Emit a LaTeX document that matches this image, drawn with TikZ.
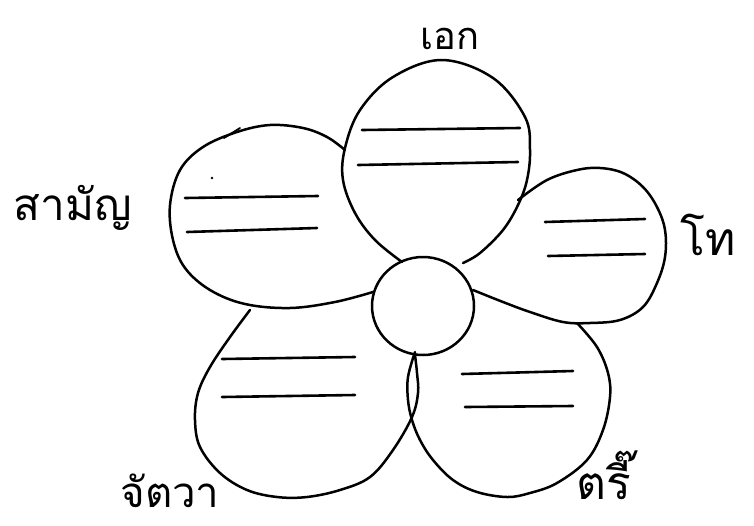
\documentclass[tikz,border=0pt]{standalone}
\usepackage{fontspec}
\newfontfamily\thaifont[Script=Thai]{Loma}
\begin{document}
\begin{tikzpicture}[x=1pt,y=-1pt,line cap=round,line join=round,
  outline/.style={draw=black,line width=2.5pt},
  rule/.style={draw=black,line width=2.6pt},
  lbl/.style={font=\thaifont\fontsize{#1}{#1}\selectfont,inner sep=0pt,anchor=base}]
\fill[white] (0,0) rectangle (754,525);
\useasboundingbox (0,0) rectangle (754,525);

% top petal
\draw[outline] plot[smooth,tension=0.6] coordinates {(402,262) (375,240) (355,213) (343,180) (345,148) (360,110) (393,77) (442,60) (493,78) (525,117) (530,150) (527,180) (518,205) (503,230) (480,253) (463,263)};
% left petal
\draw[outline] plot[smooth,tension=0.6] coordinates {(345,150) (327,137) (303,128) (270,125) (237,132) (203,147) (180,170) (170,205) (173,240) (185,268) (210,290) (245,304) (290,308) (335,302) (373,292)};
% right petal
\draw[outline] plot[smooth,tension=0.6] coordinates {(518,200) (547,180) (577,170) (600,168) (623,173) (643,187) (657,207) (665,230) (665,257) (657,283) (643,307) (620,320) (590,323) (563,322) (530,312) (503,302) (473,290)};
% bottom right petal
\draw[outline] plot[smooth,tension=0.6] coordinates {(577,323) (597,347) (608,373) (610,397) (603,430) (587,460) (557,483) (530,493) (507,497) (477,492) (453,480) (433,460) (420,440) (412,420) (408,400) (408,377) (415,352)};
% bottom left petal
\draw[outline] plot[smooth,tension=0.6] coordinates {(250,310) (230,337) (210,367) (198,393) (195,420) (200,447) (220,473) (247,490) (277,497) (307,497) (340,490) (370,477) (393,450) (412,417) (418,393) (417,373) (415,355)};
% centre
\draw[outline] (423,306) ellipse [x radius=51pt,y radius=49pt];

% small marks
\draw[line width=1.8pt] (224,138) -- (240,128);
\fill (212,178) circle [radius=1.3pt];

% rules in petals
\draw[rule] (362,130) -- (520,128);
\draw[rule] (358,165) -- (518,162);
\draw[rule] (185,198) -- (318,196);
\draw[rule] (187,232) -- (317,228);
\draw[rule] (545,222) -- (645,219);
\draw[rule] (548,256) -- (645,254);
\draw[rule] (222,359) -- (355,357);
\draw[rule] (222,397) -- (355,395);
\draw[rule] (462,374) -- (573,371);
\draw[rule] (465,407) -- (573,406);

% labels
\node[lbl=38] (ek) at (450,49) {เอก};
\node[lbl=46] (tho) at (708,255) {โท};
\node[lbl=44] (saman) at (73,220) {สามัญ};
\node[lbl=42] (chattawa) at (170,507) {จัตวา};
\node[lbl=46] (tri) at (604,499) {ตรี๊};
\end{tikzpicture}
\end{document}
